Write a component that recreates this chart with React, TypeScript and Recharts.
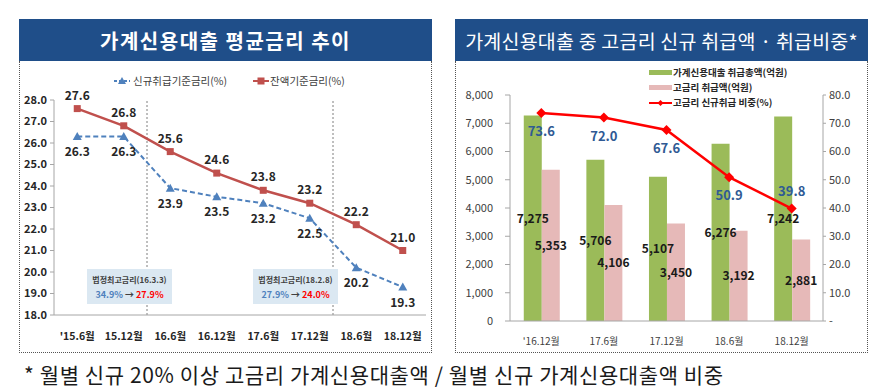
import React from "react";
import {
  LineChart,
  Line,
  ComposedChart,
  Bar,
  XAxis,
  YAxis,
  ReferenceLine,
  LabelList,
} from "recharts";

// left panel: average rates
const rateCats = ["'15.6월", "15.12월", "16.6월", "16.12월", "17.6월", "17.12월", "18.6월", "18.12월"];
const newRate = [26.3, 26.3, 23.9, 23.5, 23.2, 22.5, 20.2, 19.3];
const balRate = [27.6, 26.8, 25.6, 24.6, 23.8, 23.2, 22.2, 21.0];
const rateTicks = [18, 19, 20, 21, 22, 23, 24, 25, 26, 27, 28];
const rateXTicks = [0, 1, 2, 3, 4, 5, 6, 7];
// positions between half-years where the legal max rate changed
const capChanges = [1.5, 5.5];

// right panel: high-rate loans
const loanCats = ["'16.12월", "17.6월", "17.12월", "18.6월", "18.12월"];
const totalLoan = [7275, 5706, 5107, 6276, 7242];
const highLoan = [5353, 4106, 3450, 3192, 2881];
const highShare = [73.6, 72.0, 67.6, 50.9, 39.8];
const amountTicks = [0, 1000, 2000, 3000, 4000, 5000, 6000, 7000, 8000];
const shareTicks = [0, 10, 20, 30, 40, 50, 60, 70, 80];

const rateData = rateCats.map((label, i) => ({
  i,
  label,
  newRate: newRate[i],
  balRate: balRate[i],
}));

const loanData = loanCats.map((cat, i) => ({
  cat,
  total: totalLoan[i],
  high: highLoan[i],
  share: highShare[i],
}));

const FONT = "'Noto Sans CJK KR', 'Noto Sans', sans-serif";
const NAVY = "#1F4E89";
const RED = "#C0504D";
const BLUE = "#4F81BD";

const SquareDot = (p: any) => (
  <rect key={`sq-${p.index}`} x={p.cx - 3.5} y={p.cy - 3.5} width={7} height={7} fill={RED} />
);

const TriangleDot = (p: any) => (
  <path
    key={`tr-${p.index}`}
    d={`M${p.cx},${p.cy - 4.5}L${p.cx + 4.5},${p.cy + 3.5}L${p.cx - 4.5},${p.cy + 3.5}Z`}
    fill={BLUE}
  />
);

const DiamondDot = (p: any) => (
  <path
    key={`dm-${p.index}`}
    d={`M${p.cx},${p.cy - 5}L${p.cx + 5},${p.cy}L${p.cx},${p.cy + 5}L${p.cx - 5},${p.cy}Z`}
    fill="#FF0000"
  />
);

const shareLabel = (p: any) => {
  const above = p.index === highShare.length - 1;
  return (
    <text
      key={`sl-${p.index}`}
      x={p.x}
      y={above ? p.y - 13 : p.y + 23}
      textAnchor="middle"
      fontSize={13}
      fontWeight={700}
      fill="#2F5A94"
    >
      {Number(p.value).toFixed(1)}
    </text>
  );
};

const fmt1 = (v: any) => Number(v).toFixed(1);
const fmtComma = (v: any) => Number(v).toLocaleString("en-US");

const TitleBar = ({ left, text, size, weight, spacing }: any) => (
  <div
    style={{
      position: "absolute",
      left,
      top: 19,
      width: 413,
      height: 42,
      background: NAVY,
      color: "#fff",
      fontSize: size,
      fontWeight: weight,
      letterSpacing: spacing,
      display: "flex",
      alignItems: "center",
      justifyContent: "center",
      whiteSpace: "pre",
    }}
  >
    {text}
  </div>
);

const Frame = ({ left }: any) => (
  <div
    style={{
      position: "absolute",
      left,
      top: 61,
      width: 413,
      height: 292,
      boxSizing: "border-box",
      borderLeft: "1px dotted #555",
      borderRight: "1px dotted #555",
      borderBottom: "1px dotted #555",
    }}
  />
);

const CapBox = ({ left, title, from, to }: any) => (
  <div
    style={{
      position: "absolute",
      left,
      top: 269,
      width: 85,
      height: 35,
      background: "#DBE8F2",
      textAlign: "center",
      lineHeight: "15px",
      paddingTop: 3,
      boxSizing: "border-box",
    }}
  >
    <div style={{ fontSize: 8, fontWeight: 700, color: "#404040" }}>{title}</div>
    <div style={{ fontSize: 9, fontWeight: 700 }}>
      <span style={{ color: BLUE }}>{from}</span>
      <span style={{ color: "#404040" }}> → </span>
      <span style={{ color: "#FF0000" }}>{to}</span>
    </div>
  </div>
);

export default function App() {
  return (
    <div
      style={{
        position: "absolute",
        left: 0,
        top: 0,
        width: 887,
        height: 392,
        background: "#fff",
        fontFamily: FONT,
        overflow: "hidden",
      }}
    >
      <TitleBar left={19} text="가계신용대출 평균금리 추이" size={20} weight={700} spacing={1.5} />
      <TitleBar left={455} text="가계신용대출 중 고금리 신규 취급액 · 취급비중*" size={19.5} weight={400} spacing={0.2} />
      <Frame left={19} />
      <Frame left={455} />

      {/* left chart */}
      <div style={{ position: "absolute", left: 19, top: 61 }}>
        <LineChart width={413} height={292} data={rateData} margin={{ top: 39, right: 6, left: 0, bottom: 0 }}>
          <XAxis
            dataKey="i"
            type="number"
            domain={[-0.5, 7.5]}
            ticks={rateXTicks}
            interval={0}
            tickFormatter={(v) => rateCats[v]}
            height={38}
            tickLine={false}
            tickSize={6}
            tickMargin={12}
            axisLine={{ stroke: "#A6A6A6" }}
            tick={{ fontSize: 10.5, fontWeight: 700, fill: "#262626" }}
          />
          <YAxis
            type="number"
            domain={[18, 28]}
            ticks={rateTicks}
            width={35}
            tickFormatter={fmt1}
            tickSize={4}
            tickMargin={3}
            axisLine={{ stroke: "#A6A6A6" }}
            tickLine={{ stroke: "#A6A6A6" }}
            tick={{ fontSize: 11, fontWeight: 700, fill: "#262626" }}
          />
          {capChanges.map((x) => (
            <ReferenceLine key={x} x={x} stroke="#7F7F7F" strokeDasharray="2 2" />
          ))}
          <Line
            dataKey="newRate"
            stroke={BLUE}
            strokeWidth={2}
            strokeDasharray="5 3"
            dot={TriangleDot}
            isAnimationActive={false}
          >
            <LabelList
              dataKey="newRate"
              position="bottom"
              offset={11}
              formatter={fmt1}
              style={{ fontSize: 12, fontWeight: 700, fill: "#262626" }}
            />
          </Line>
          <Line dataKey="balRate" stroke={RED} strokeWidth={2.5} dot={SquareDot} isAnimationActive={false}>
            <LabelList
              dataKey="balRate"
              position="top"
              offset={9}
              formatter={fmt1}
              style={{ fontSize: 12, fontWeight: 700, fill: "#262626" }}
            />
          </Line>
        </LineChart>
      </div>

      {/* left legend */}
      <div style={{ position: "absolute", left: 114, top: 73, display: "flex", alignItems: "center", fontSize: 10.5, color: "#404040" }}>
        <svg width={16} height={10}>
          <line x1={0} y1={5} x2={16} y2={5} stroke={BLUE} strokeWidth={2} strokeDasharray="3 2" />
          <path d="M8,1L12,8L4,8Z" fill={BLUE} />
        </svg>
        <span style={{ marginLeft: 3 }}>신규취급기준금리(%)</span>
        <svg width={16} height={10} style={{ marginLeft: 26 }}>
          <line x1={0} y1={5} x2={16} y2={5} stroke={RED} strokeWidth={2} />
          <rect x={4.5} y={1.5} width={7} height={7} fill={RED} />
        </svg>
        <span style={{ marginLeft: 1 }}>잔액기준금리(%)</span>
      </div>

      <CapBox left={87} title="법정최고금리(16.3.3)" from="34.9%" to="27.9%" />
      <CapBox left={253} title="법정최고금리(18.2.8)" from="27.9%" to="24.0%" />

      {/* right chart */}
      <div style={{ position: "absolute", left: 455, top: 61 }}>
        <ComposedChart
          width={413}
          height={292}
          data={loanData}
          margin={{ top: 34, right: 0, left: 0, bottom: 0 }}
          barCategoryGap="22%"
          barGap={0}
        >
          <XAxis
            dataKey="cat"
            height={32}
            tickLine={false}
            tickSize={5}
            tickMargin={12}
            axisLine={{ stroke: "#A6A6A6" }}
            tick={{ fontSize: 10, fill: "#404040" }}
          />
          <YAxis
            yAxisId="left"
            domain={[0, 8000]}
            ticks={amountTicks}
            width={55}
            tickFormatter={fmtComma}
            tickSize={5}
            tickMargin={12}
            axisLine={{ stroke: "#A6A6A6" }}
            tickLine={{ stroke: "#A6A6A6" }}
            tick={{ fontSize: 11, fill: "#404040" }}
          />
          <YAxis
            yAxisId="right"
            orientation="right"
            domain={[0, 80]}
            ticks={shareTicks}
            width={45}
            tickFormatter={(v) => (v === 0 ? "-" : Number(v).toFixed(1))}
            tickSize={3}
            tickMargin={3}
            axisLine={{ stroke: "#A6A6A6" }}
            tickLine={{ stroke: "#A6A6A6" }}
            tick={{ fontSize: 11, fill: "#404040" }}
          />
          <Bar yAxisId="left" dataKey="total" fill="#9BBB59" isAnimationActive={false}>
            <LabelList
              dataKey="total"
              position="center"
              formatter={fmtComma}
              style={{ fontSize: 12, fontWeight: 700, fill: "#1A1A1A" }}
            />
          </Bar>
          <Bar yAxisId="left" dataKey="high" fill="#E6B9B8" isAnimationActive={false}>
            <LabelList
              dataKey="high"
              position="center"
              formatter={fmtComma}
              style={{ fontSize: 12, fontWeight: 700, fill: "#1A1A1A" }}
            />
          </Bar>
          <Line
            yAxisId="right"
            dataKey="share"
            stroke="#FF0000"
            strokeWidth={2.5}
            dot={DiamondDot}
            isAnimationActive={false}
          >
            <LabelList dataKey="share" content={shareLabel} />
          </Line>
        </ComposedChart>
      </div>

      {/* right legend */}
      <div style={{ position: "absolute", left: 649, top: 65, fontSize: 9.5, fontWeight: 700, color: "#262626", lineHeight: "15px" }}>
        <div style={{ display: "flex", alignItems: "center" }}>
          <span style={{ width: 23, height: 5, background: "#9BBB59", marginRight: 1 }} />
          가계신용대출 취급총액(억원)
        </div>
        <div style={{ display: "flex", alignItems: "center" }}>
          <span style={{ width: 23, height: 5, background: "#E6B9B8", marginRight: 1 }} />
          고금리 취급액(억원)
        </div>
        <div style={{ display: "flex", alignItems: "center" }}>
          <svg width={23} height={10} style={{ marginRight: 1 }}>
            <line x1={0} y1={5} x2={23} y2={5} stroke="#FF0000" strokeWidth={2} />
            <path d="M11.5,2L14.5,5L11.5,8L8.5,5Z" fill="#FF0000" />
          </svg>
          고금리 신규취급 비중(%)
        </div>
      </div>

      {/* footnote */}
      <div style={{ position: "absolute", left: 24, top: 360, fontSize: 21, letterSpacing: 0.6, color: "#1A1A1A", whiteSpace: "pre", lineHeight: "28px" }}>
        * 월별 신규 20% 이상 고금리 가계신용대출액 / 월별 신규 가계신용대출액 비중
      </div>
    </div>
  );
}
